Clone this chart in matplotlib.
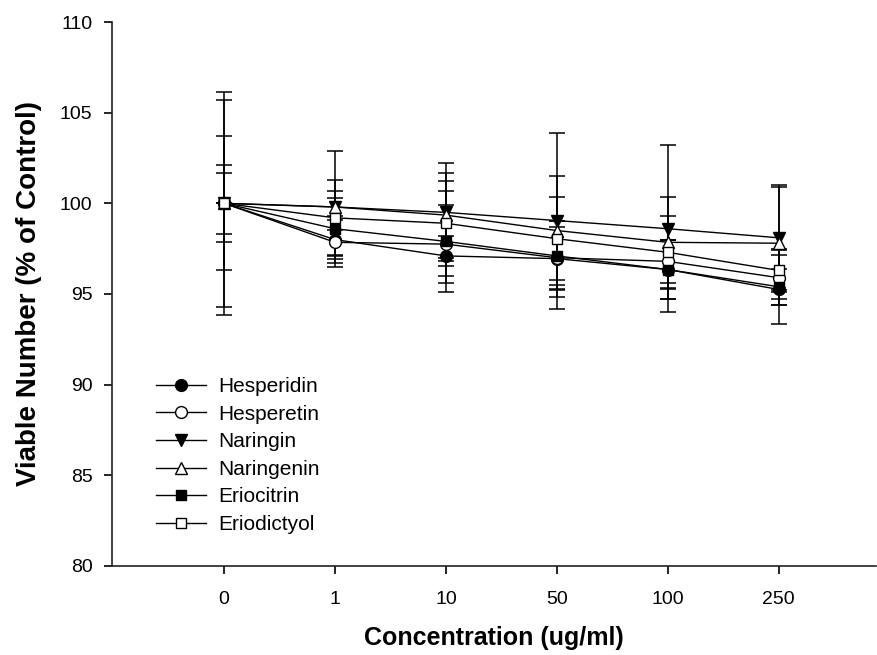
import numpy as np
import matplotlib
matplotlib.use("Agg")
import matplotlib.pyplot as plt

plt.rcParams['font.family'] = ['Liberation Sans', 'DejaVu Sans']

concentrations = ["0", "1", "10", "50", "100", "250"]

names = ["Hesperidin", "Hesperetin", "Naringin", "Naringenin",
         "Eriocitrin", "Eriodictyol"]

hesperidin = [100, 98.0, 97.1, 96.95, 96.35, 95.25]
hesperidin_sd = [2.13, 1.07, 1.1, 2.1, 1.65, 1.9]
hesperetin = [100, 97.85, 97.75, 97.0, 96.8, 95.9]
hesperetin_sd = [1.7, 0.7, 2.15, 1.7, 1.2, 1.5]
naringin = [100, 99.8, 99.5, 99.05, 98.6, 98.1]
naringin_sd = [6.15, 3.1, 2.7, 4.85, 4.6, 2.9]
naringenin = [100, 99.8, 99.35, 98.5, 97.85, 97.8]
naringenin_sd = [5.7, 0.48, 2.35, 3.0, 2.5, 3.1]
eriocitrin = [100, 98.6, 97.9, 97.1, 96.35, 95.4]
eriocitrin_sd = [3.7, 2.1, 2.8, 1.9, 1.65, 1.0]
eriodictyol = [100, 99.2, 98.9, 98.05, 97.3, 96.3]
eriodictyol_sd = [0.0, 2.09, 2.35, 2.3, 2.0, 1.2]

series = [hesperidin, hesperetin, naringin, naringenin, eriocitrin, eriodictyol]
errors = [hesperidin_sd, hesperetin_sd, naringin_sd, naringenin_sd,
          eriocitrin_sd, eriodictyol_sd]
markers = ['o', 'o', 'v', '^', 's', 's']
faces = ['black', 'white', 'black', 'white', 'black', 'white']
sizes = [8.5, 8.5, 8.5, 8.5, 7.5, 7.5]

fig = plt.figure(figsize=(8.78, 6.55), dpi=100)
ax = fig.add_axes([0.1276, 0.1359, 0.8704, 0.8305])

xpos = np.arange(len(concentrations))

for vals, sd in zip(series, errors):
    ax.errorbar(xpos, vals, yerr=sd, fmt='none', ecolor='black',
                elinewidth=1.1, capsize=6, capthick=1.1, zorder=2)

for vals, name, m, fc, ms in zip(series, names, markers, faces, sizes):
    ax.plot(xpos, vals, color='black', linewidth=1.0, marker=m,
            markersize=ms, markerfacecolor=fc, markeredgecolor='black',
            markeredgewidth=1.0, label=name, zorder=3)

ax.set_xlim(-1.01, 5.88)
ax.set_ylim(80, 110)
ax.set_xticks(xpos)
ax.set_xticklabels(concentrations)
ax.set_yticks(np.arange(80, 111, 5))

for side in ['top', 'right']:
    ax.spines[side].set_visible(False)
for side in ['left', 'bottom']:
    ax.spines[side].set_linewidth(1.2)
    ax.spines[side].set_color('#222222')

ax.tick_params(axis='x', direction='out', length=6, width=1.2,
               labelsize=14, pad=12)
ax.tick_params(axis='y', direction='out', length=6, width=1.2,
               labelsize=14, pad=8)

ax.set_xlabel("Concentration (ug/ml)", fontsize=18, fontweight='bold',
              labelpad=13)
ax.set_ylabel("Viable Number (% of Control)", fontsize=20,
              fontweight='bold', labelpad=13)

leg = ax.legend(loc='upper left', bbox_to_anchor=(0.0576, 0.347),
                frameon=False, fontsize=15, handlelength=2.4,
                handletextpad=0.6, labelspacing=0.41, borderaxespad=0,
                borderpad=0)

fig.savefig("out.png", dpi=100)
